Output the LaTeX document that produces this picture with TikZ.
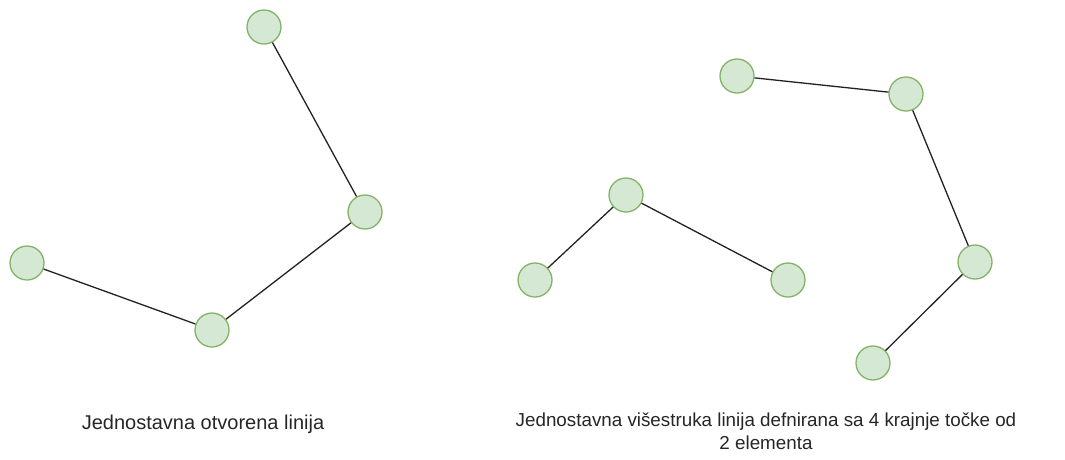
\documentclass[tikz,border=0pt]{standalone}
\usepackage{fontspec}
\setmainfont{Liberation Sans}
\definecolor{ptfill}{HTML}{D5E8D4}
\definecolor{ptdraw}{HTML}{82B366}
\definecolor{segcol}{HTML}{222222}
\begin{document}
\begin{tikzpicture}[x=1pt,y=-1pt,
  pt/.style={circle,draw=ptdraw,fill=ptfill,line width=1.3pt,minimum size=34pt,inner sep=0pt},
  seg/.style={draw=segcol,line width=1.3pt},
  caption/.style={font=\fontsize{20}{23}\selectfont,align=center,text=black!85}]
\path[use as bounding box] (0,0) rectangle (1065,459);
% open polyline
\node[pt] (a) at (264,27) {};
\node[pt] (b) at (365,212) {};
\node[pt] (c) at (212,330) {};
\node[pt] (d) at (27,263) {};
\draw[seg] (a) -- (b) (b) -- (c) (c) -- (d);
% multi polyline, first element
\node[pt] (j) at (535,280) {};
\node[pt] (i) at (626,195) {};
\node[pt] (k) at (788,280) {};
\draw[seg] (j) -- (i) (i) -- (k);
% multi polyline, second element
\node[pt] (e) at (737,76) {};
\node[pt] (f) at (906,94) {};
\node[pt] (g) at (975,262) {};
\node[pt] (h) at (873,363) {};
\draw[seg] (e) -- (f) (f) -- (g) (g) -- (h);
% captions
\node[caption] (t1) at (203,424) {Jednostavna otvorena linija};
\node[caption,font=\fontsize{18.8}{23}\selectfont] (t2) at (766,431) {Jednostavna višestruka linija defnirana sa 4 krajnje točke od\\2 elementa};
\end{tikzpicture}
\end{document}
